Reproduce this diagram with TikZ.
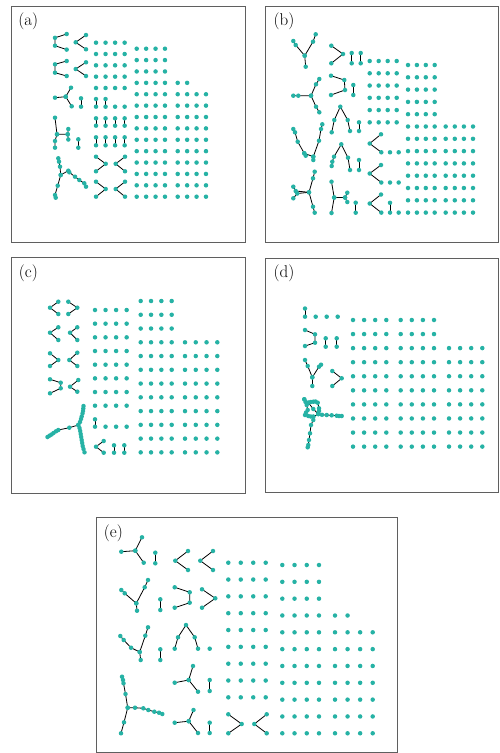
\documentclass[tikz,border=0pt]{standalone}
\pgfdeclarelayer{bg}
\pgfsetlayers{bg,main}
\definecolor{dotc}{RGB}{38,178,165}
\definecolor{framec}{RGB}{95,95,95}
\pgfdeclareplotmark{dotm}{\pgfpathcircle{\pgfpointorigin}{2.25pt}\pgfusepathqfill}
\tikzset{
  edge/.style={black,line width=0.8pt},
  panel/.style={draw=framec,line width=1pt},
  lbl/.style={font=\fontsize{17}{20}\selectfont,inner sep=0pt}
}
\newcommand{\gp}[1]{\begin{pgfonlayer}{bg}\draw[edge] plot coordinates {#1};\end{pgfonlayer}\path[fill=dotc] plot[only marks,mark=dotm] coordinates {#1};}
\newcommand{\dd}[2]{\fill[dotc] (#1,#2) circle (2.25);}
\newcommand{\dgrid}[6]{\foreach \c in {1,...,#3}{\foreach \r in {1,...,#6}{\fill[dotc] ({#1+(\c-1)*#2},{#4+(\r-1)*#5}) circle (2.25);}}}
\begin{document}
\begin{tikzpicture}[x=1pt,y=-1pt]
\useasboundingbox (0,0) rectangle (499,753);
% frames
\draw[panel] (11,6.5) rectangle (245.5,242);
\draw[panel] (265.5,6.5) rectangle (498.5,242);
\draw[panel] (11.5,257.5) rectangle (245.5,493);
\draw[panel] (265.5,258) rectangle (498.5,492.5);
\draw[panel] (96.5,517.5) rectangle (397,752.5);
\node[lbl] (la) at (28.3,21) {(a)};
\node[lbl] (lb) at (284,21.5) {(b)};
\node[lbl] (lc) at (28.3,273) {(c)};
\node[lbl] (ld) at (284,273.5) {(d)};
\node[lbl] (le) at (113.3,533) {(e)};

% ================= (a)
\dgrid{96}{9.55}{4}{42.67}{11.33}{5}
\dgrid{136.7}{9.43}{4}{48.7}{11.385}{14}
\dgrid{177.7}{9.43}{4}{94.24}{11.385}{10}
\dd{177.7}{82.85}\dd{187.13}{82.85}
\foreach \x in {96,105.55}{\gp{(\x,99) (\x,106.7)}}
\dd{115.1}{106.7}\dd{124.65}{106.7}
\foreach \x in {96,105.55,115.1,124.65}{\gp{(\x,118.3) (\x,125.7)}\gp{(\x,137.3) (\x,145.3)}}
\gp{(96,156.7) (105.7,163.8) (96,171.3)}
\gp{(125,156.7) (115.7,163.8) (125,171.3)}
\gp{(96,181.7) (105.7,189) (96,196.7)}
\gp{(125,181.7) (115.7,189) (125,196.7)}
\gp{(66.7,34) (55,37.8) (55,45.7) (66.7,49.6)}
\gp{(86,35) (75.7,42.3) (86,49.3)}
\gp{(66.7,61) (55,64.3) (55,72.7) (66.7,76)}
\gp{(86,62.3) (75.7,69) (86,76)}
\gp{(55,97.7) (65.7,96.7) (71,87.7)}
\gp{(65.7,96.7) (71.7,106.3)}
\gp{(81,98.3) (81,106.7)}
\gp{(55,117.7) (57,134.3) (55,141) (55,147.7)}
\gp{(57,134.3) (67.7,134.3) (68.3,129)}
\gp{(67.7,134.3) (68.3,139.5)}
\gp{(78.3,139.3) (78.3,147.7)}
\gp{(58.3,158.3) (59,161.7) (60,166.7) (60.7,175) (68.3,170.7) (69.3,172.3) (75,176.7) (79.3,180) (84.3,183.3) (86,186.7)}
\gp{(60.7,175) (57.7,185.7) (55,195) (55.7,197.7)}

% ================= (b)
\dgrid{369.7}{9}{4}{61}{12.27}{6}
\dgrid{408}{8.9}{4}{65}{12.3}{13}
\dgrid{445.7}{9.1}{4}{126.5}{12.3}{8}
\gp{(293.3,41) (295.7,45) (304.7,55.7) (313,41.7) (315.7,34.3)}
\gp{(304.7,55.7) (305.7,66.7)}
\gp{(331.3,45.7) (343,54) (331.3,63.3)}
\gp{(351.7,53) (351.7,63.3)}
\gp{(360.7,53) (360.7,63.3)}
\gp{(293.3,95.7) (298.3,95.7) (311,95.7) (316,84.3) (319.3,79)}
\gp{(311,95.7) (316,106.7) (319.3,112.3)}
\gp{(331,75.7) (344.3,80) (345,90) (331,95)}
\gp{(353.3,85) (353.3,95)}
\gp{(293.3,129) (295,132.3) (297.7,141.7) (304.3,153.3) (313.3,156.7) (319,140.7) (321,129) (322.3,124.3)}
\gp{(304.3,153.3) (305.7,155.7)}
\gp{(313.3,156.7) (313.3,160)}
\gp{(331.7,132.3) (334.3,120) (340.3,106.7) (347.7,120) (350,131)}
\gp{(359,122.3) (359,131)}
\gp{(331.7,166) (332.3,161.7) (334,156.7) (341.3,144.3) (348,157.7) (350,170)}
\gp{(359,160) (359,170)}
\gp{(381,134.3) (369.7,143.5) (381.3,152.3)}
\dd{390}{152.3}\dd{398.7}{152.3}
\gp{(381,165) (369.7,173.5) (381.3,182.5)}
\dd{390}{182.5}\dd{398.7}{182.5}
\gp{(381,194.5) (369.7,203.5) (381.3,212.6)}
\gp{(390,202.8) (390,212.6)}
\dd{398.7}{212.6}
\gp{(293.3,186.7) (295.7,191) (309,192.3) (313,178.3) (314.7,171.7)}
\gp{(293.3,198.3) (297.3,193.5) (309,192.3) (313,206.7) (314.7,212.7)}
\gp{(331.5,181.7) (334.2,197.5) (331.5,213)}
\gp{(334.2,197.5) (345,197.5) (347.3,192.7)}
\gp{(345,197.5) (347.3,202)}
\gp{(355.7,202.7) (355.7,212.7)}

% ================= (c)
\dgrid{95}{10.55}{4}{310}{13.67}{8}
\gp{(95,419.3) (95,426.7)}
\dd{105.55}{426.7}\dd{116.1}{426.7}\dd{126.65}{426.7}
\gp{(103.7,441) (96,446.7) (103.7,452.7)}
\gp{(114,445.3) (114,452.7)}
\gp{(124.3,445.3) (124.3,452.7)}
\dgrid{140.7}{10.33}{4}{301}{13.76}{12}
\dgrid{185}{10.77}{4}{342.3}{13.76}{9}
\gp{(58.3,301.7) (50,307.7) (58.3,314)}
\gp{(68.3,301.7) (77.3,307.7) (68.3,314)}
\gp{(58.3,327.3) (50,332.7) (58.3,340)}
\gp{(77.3,327.3) (70,332.7) (77.3,340)}
\gp{(50,353.3) (58.3,360) (50,366)}
\gp{(77.3,352.7) (69.3,360) (77.3,366)}
\gp{(50,379.3) (60.7,382.7) (60.7,388.3) (50,393.3)}
\gp{(78.3,380) (70,386.7) (77.3,391.7)}
\gp{(83.5,406) (83.3,408.5) (83,411) (82.5,413.5) (81.7,416.5) (81,419) (80,422) (78.3,425) (69.3,427.7) (58.3,430) (56,431.3) (53.5,433) (51.5,434.5) (49.5,435.7) (47.5,437)}
\gp{(78.3,425) (79.5,428) (80.2,431) (80.7,434) (81.2,437) (81.7,440) (82.2,443) (82.7,446) (83.5,449) (84.5,452.3)}

% ================= (d)
\dgrid{353}{11.1}{4}{320}{14.07}{10}
\dgrid{400.7}{11.1}{4}{320}{14.07}{10}
\dgrid{449}{11.1}{4}{348.1}{14.07}{8}
\gp{(305,308.5) (305,316.7)}
\dd{315.7}{316.7}\dd{326.7}{316.7}\dd{337.7}{316.7}
\gp{(305,330) (315,334.3) (315,342.7) (305,346)}
\gp{(325.7,338.3) (325.7,346.7)}
\gp{(336.7,338.3) (336.7,346.7)}
\gp{(305,360) (307.7,366) (312.3,377.3) (319,366.7) (321,364.7)}
\gp{(312.3,377.3) (312.3,386)}
\gp{(332.3,371) (341.7,378.3) (332.3,386)}
\gp{(304.3,399.3) (305.5,402) (306.7,405) (307.7,410) (306,412.5) (305,415) (308.3,416) (310.8,416.5) (313.3,416.7) (318.3,414) (319,411) (319,408.3) (317.7,402.7) (315.5,401.5) (313.3,401.7) (310.8,402) (308.3,402.7) (304.3,399.3)}
\gp{(308.3,402.7) (313.3,409) (318.3,414)}
\gp{(318.3,414) (322,414.8) (326.7,415) (331.7,415.3) (336.7,415.7) (339,416) (341.7,416)}
\gp{(313.3,416.7) (313.3,420) (311,425) (310,433.3) (309,440) (308.3,445) (307.7,447.3)}

% ================= (e)
\dgrid{228.3}{12.47}{4}{562.7}{16.83}{9}
\dgrid{282.3}{12.23}{4}{565}{16.83}{11}
\dgrid{335}{12.57}{4}{632.3}{16.83}{7}
\dd{335}{615.5}\dd{347.57}{615.5}
\gp{(121.3,551.7) (135.3,550.7) (142,537.3)}
\gp{(135.3,550.7) (143.7,562.7)}
\gp{(155.3,552.7) (155.3,563.3)}
\gp{(188,551) (175.3,560.7) (188,570)}
\gp{(213,551) (200.3,560.7) (213,570)}
\gp{(121.3,590) (124.7,593.3) (136.3,603.3) (144.7,587.3) (148,580)}
\gp{(136.3,603.3) (137,610.7)}
\gp{(160.3,599.3) (160.3,610)}
\gp{(174.7,587.3) (189.7,592.3) (189.7,602.7) (174.7,607.7)}
\gp{(202,589.3) (215.3,598.3) (202,607.7)}
\gp{(120.3,636) (123.7,640) (131,647.7) (139.7,652) (145.3,635.7) (148,627.3)}
\gp{(139.7,652) (140.7,660)}
\gp{(160.3,649.3) (160.3,660)}
\gp{(174.7,648.7) (178,637.3) (186,625) (194.7,637.3) (198,648.7)}
\dd{209.7}{648.7}
\gp{(174.7,682.7) (188.7,680) (193,666)}
\gp{(188.7,680) (198,691.7)}
\gp{(209.7,680) (209.7,691)}
\gp{(174.7,722.7) (188.7,721.2) (193.5,710)}
\gp{(188.7,721.2) (198,733)}
\gp{(209.7,722.7) (209.7,733)}
\gp{(228.3,714.3) (241.7,724) (228.3,733.3)}
\gp{(266.7,714.3) (254.3,724) (266.7,733.3)}
\gp{(122,676.7) (123,680) (123.5,683.3) (125.5,694) (127.7,707.7) (135,707.7) (143.3,708.3) (148.3,710) (154.3,711.7) (159,712.7) (162.3,714)}
\gp{(127.7,707.7) (124,722.3) (121,733.3)}
\end{tikzpicture}
\end{document}
